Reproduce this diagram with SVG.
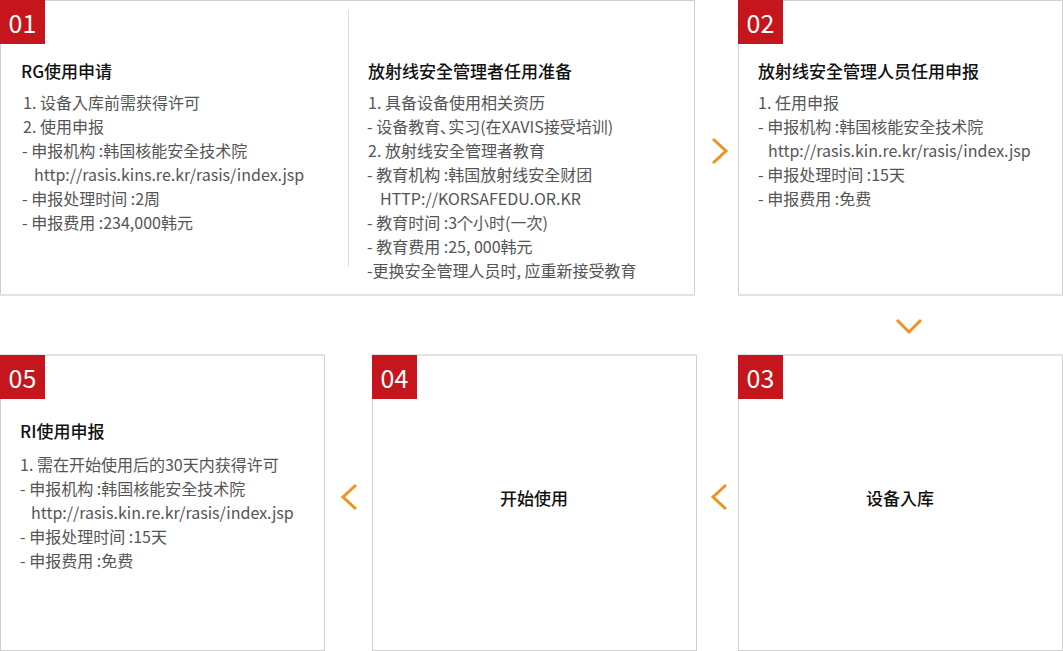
<svg xmlns="http://www.w3.org/2000/svg" width="1063" height="651" viewBox="0 0 1063 651">
<style>
text{font-family:"Noto Sans CJK KR","Noto Sans CJK SC","Noto Sans",sans-serif;}
.box{fill:#fff;stroke:#cfcfcf;stroke-width:1;}
.shadow{stroke:#e2e2e2;stroke-width:2;}
.badge{fill:#c4161c;}
.num{fill:#fff;font-size:25px;text-anchor:middle;}
.title{fill:#111;font-size:17px;font-weight:500;}
.body{fill:#555;font-size:16px;}
.center{fill:#111;font-size:17px;font-weight:500;text-anchor:middle;}
.chev{fill:none;stroke:#f0921f;stroke-width:3;}
</style>
<rect width="1063" height="651" fill="#fff"/>

<g id="node01">
<rect class="box" x="0.5" y="0.5" width="694" height="295"/>
<line class="shadow" x1="0" y1="295" x2="695" y2="295"/>
<line x1="348.5" y1="10" x2="348.5" y2="267" stroke="#dcdcdc" stroke-width="1"/>
<rect class="badge" x="0" y="0" width="45" height="44"/>
<text class="num" x="22.5" y="33">01</text>
<text class="title" x="21" y="78">RG使用申请</text>
<text class="body" x="23" y="109">1. 设备入库前需获得许可</text>
<text class="body" x="23" y="133">2. 使用申报</text>
<text class="body" x="22" y="157">- 申报机构 :韩国核能安全技术院</text>
<text class="body" x="34" y="181">http://rasis.kins.re.kr/rasis/index.jsp</text>
<text class="body" x="22" y="205">- 申报处理时间 :2周</text>
<text class="body" x="22" y="229">- 申报费用 :234,000韩元</text>
<text class="title" x="368" y="78">放射线安全管理者任用准备</text>
<text class="body" x="368" y="109">1. 具备设备使用相关资历</text>
<text class="body" x="367" y="133">- 设备教育､实习(在XAVIS接受培训)</text>
<text class="body" x="368" y="157">2. 放射线安全管理者教育</text>
<text class="body" x="367" y="181">- 教育机构 :韩国放射线安全财团</text>
<text class="body" x="380" y="205">HTTP://KORSAFEDU.OR.KR</text>
<text class="body" x="367" y="229">- 教育时间 :3个小时(一次)</text>
<text class="body" x="367" y="253">- 教育费用 :25, 000韩元</text>
<text class="body" x="367" y="277">-更换安全管理人员时, 应重新接受教育</text>
</g>

<g id="node02">
<rect class="box" x="738.5" y="0.5" width="324" height="295"/>
<line class="shadow" x1="738" y1="295" x2="1063" y2="295"/>
<rect class="badge" x="738" y="0" width="45" height="44"/>
<text class="num" x="760.5" y="33">02</text>
<text class="title" x="758" y="78">放射线安全管理人员任用申报</text>
<text class="body" x="758" y="109">1. 任用申报</text>
<text class="body" x="758" y="133">- 申报机构 :韩国核能安全技术院</text>
<text class="body" x="768" y="157">http://rasis.kin.re.kr/rasis/index.jsp</text>
<text class="body" x="758" y="181">- 申报处理时间 :15天</text>
<text class="body" x="758" y="205">- 申报费用 :免费</text>
</g>

<g id="node03">
<rect class="box" x="738.5" y="355.5" width="324" height="295"/>
<line class="shadow" x1="738" y1="355" x2="1063" y2="355"/>
<rect class="badge" x="738" y="355" width="45" height="44"/>
<text class="num" x="760.5" y="388">03</text>
<text class="center" x="900" y="505">设备入库</text>
</g>

<g id="node04">
<rect class="box" x="372.5" y="355.5" width="324" height="295"/>
<line class="shadow" x1="372" y1="355" x2="697" y2="355"/>
<rect class="badge" x="372" y="355" width="45" height="44"/>
<text class="num" x="394.5" y="388">04</text>
<text class="center" x="534" y="505">开始使用</text>
</g>

<g id="node05">
<rect class="box" x="0.5" y="355.5" width="324" height="295"/>
<line class="shadow" x1="0" y1="355" x2="325" y2="355"/>
<rect class="badge" x="0" y="355" width="45" height="44"/>
<text class="num" x="22.5" y="388">05</text>
<text class="title" x="20" y="438">RI使用申报</text>
<text class="body" x="20" y="471">1. 需在开始使用后的30天内获得许可</text>
<text class="body" x="20" y="495">- 申报机构 :韩国核能安全技术院</text>
<text class="body" x="31" y="519">http://rasis.kin.re.kr/rasis/index.jsp</text>
<text class="body" x="20" y="543">- 申报处理时间 :15天</text>
<text class="body" x="20" y="567">- 申报费用 :免费</text>
</g>

<g id="connectors">
<path class="chev" d="M713,139 L726,151 L713,163"/>
<path class="chev" d="M897,320 L909,332 L921,320"/>
<path class="chev" d="M726,485 L713,497 L726,509"/>
<path class="chev" d="M356,485 L343,497 L356,509"/>
</g>
</svg>
